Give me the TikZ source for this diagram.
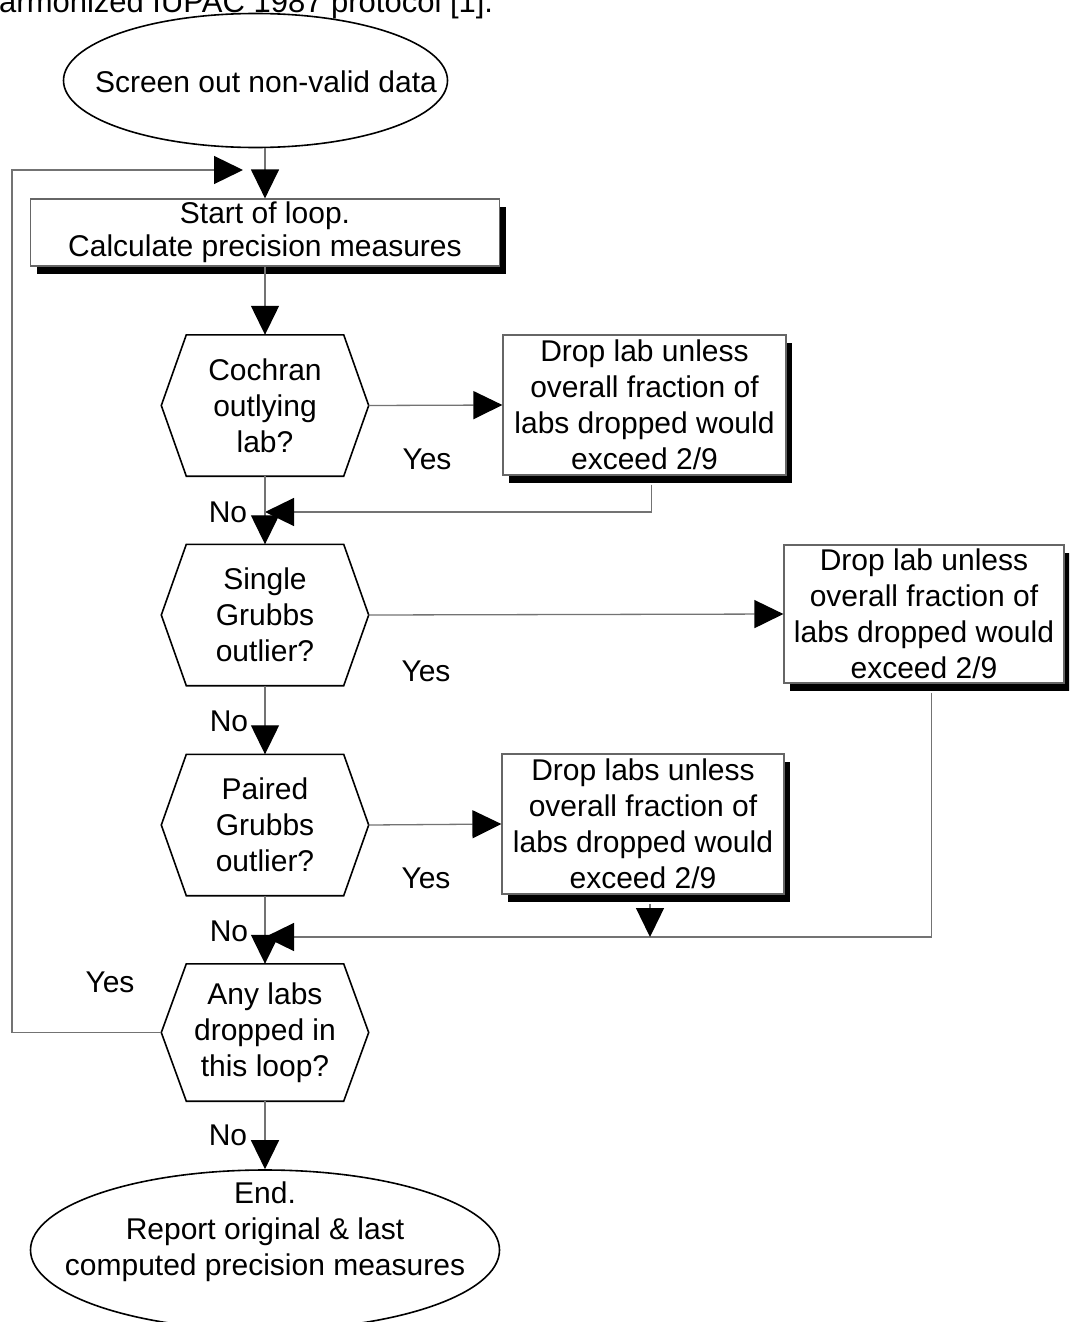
\documentclass[tikz,border=0pt]{standalone}
\usepackage{fontspec}
\setmainfont{Liberation Sans}
\usetikzlibrary{arrows.meta,shadows,calc,shapes.geometric}
\newcommand\hexdraw[1]{%
  \draw[hexline] ([xshift=25pt]#1.north west) -- ([xshift=-25pt]#1.north east) -- (#1.east)
    -- ([xshift=-25pt]#1.south east) -- ([xshift=25pt]#1.south west) -- (#1.west) -- cycle;}
\begin{document}
\begin{tikzpicture}[x=1pt,y=-1pt,
  txt/.style={font=\fontsize{30}{36}\selectfont, inner sep=0pt},
  procbox/.style={txt, rectangle, draw=black!60, line width=1.2pt, fill=white, align=center,
     copy shadow={shadow xshift=6pt, shadow yshift=-8pt, fill=black, draw=none}},
  hexnode/.style={txt, align=center, minimum width=207pt, minimum height=141pt},
  hexline/.style={draw=black, line width=1.6pt},
  term/.style={ellipse, draw=black, line width=1.6pt, inner sep=0pt},
  conn/.style={draw=black!55, line width=1.3pt},
  arr/.style={conn, -{Triangle[length=29pt,width=28pt,color=black]}},
  lbl/.style={txt},
]
\useasboundingbox (0,0) rectangle (1069,1322);
\begin{scope}
\clip (0,0) rectangle (1069,1322);

\node[txt, font=\fontsize{31}{36}\selectfont, anchor=base west] (cap) at (-1,13) {armonized IUPAC 1987 protocol [1].};

% terminals
\node[term, minimum width=384pt, minimum height=134pt] (scr) at (255.5,80.5) {};
\node[txt] (scrT) at (266,82) {Screen out non-valid data};
\node[term, minimum width=469pt, minimum height=160pt] (endE) at (265,1250) {};
\node[txt, align=center] (endT) at (265,1232)
  {End.\\Report original \& last\\computed precision measures};

% process boxes
\node[procbox, minimum width=469pt, minimum height=67pt, font=\fontsize{30}{33}\selectfont] (start) at (265,232.5)
  {Start of loop.\\Calculate precision measures};
\node[procbox, minimum width=283pt, minimum height=140pt] (drop1) at (644.5,405)
  {Drop lab unless\\overall fraction of\\labs dropped would\\exceed 2/9};
\node[procbox, minimum width=280pt, minimum height=138pt] (drop2) at (924,614)
  {Drop lab unless\\overall fraction of\\labs dropped would\\exceed 2/9};
\node[procbox, minimum width=282pt, minimum height=140pt] (drop3) at (643,824)
  {Drop labs unless\\overall fraction of\\labs dropped would\\exceed 2/9};

% decisions
\node[hexnode] (coch) at (265,405.5) {Cochran\\outlying\\lab?};
\node[hexnode] (single) at (265,615) {Single\\Grubbs\\outlier?};
\node[hexnode] (paired) at (265,825) {Paired\\Grubbs\\outlier?};
\node[hexnode, minimum height=137pt] (any) at (265,1032.5) {Any labs\\dropped in\\this loop?};
\hexdraw{coch}
\hexdraw{single}
\hexdraw{paired}
\hexdraw{any}

% labels
\node[lbl] (yes1) at (427,459) {Yes};
\node[lbl] (no1) at (228,512) {No};
\node[lbl] (yes2) at (426,671) {Yes};
\node[lbl] (no2) at (229,721) {No};
\node[lbl] (yes3) at (426,878) {Yes};
\node[lbl] (no3) at (229,931) {No};
\node[lbl] (yes4) at (110,982) {Yes};
\node[lbl] (no4) at (228,1135) {No};

% helper coordinates
\coordinate (loopin) at (243,170);
\coordinate (lc) at (12,170);
\coordinate (m1) at (265,512);
\coordinate (m2) at (265,937);
\coordinate (d1) at ($(drop1.south)+(7,9)$);
\coordinate (d2) at ($(drop2.south)+(7.5,9)$);
\coordinate (d3) at ($(drop3.south)+(7,9)$);

% connectors
\draw[arr] (scr.south -| start.north) -- (start.north);
\draw[arr] (any.west) -| (lc) -- (loopin);
\draw[arr] (start.south) -- (coch.north);
\draw[arr] (coch.east) -- (drop1.west);
\draw[arr] (d1) |- (m1);
\draw[arr] (coch.south) -- (single.north);
\draw[arr] (single.east) -- (drop2.west);
\draw[arr] (d2) |- (m2);
\draw[arr] (single.south) -- (paired.north);
\draw[arr] (paired.east) -- (drop3.west);
\draw[arr] (d3) -- (d3 |- m2);
\draw[arr] (paired.south) -- (any.north);
\draw[arr] (any.south) -- (endE.north);
\end{scope}
\end{tikzpicture}
\end{document}
